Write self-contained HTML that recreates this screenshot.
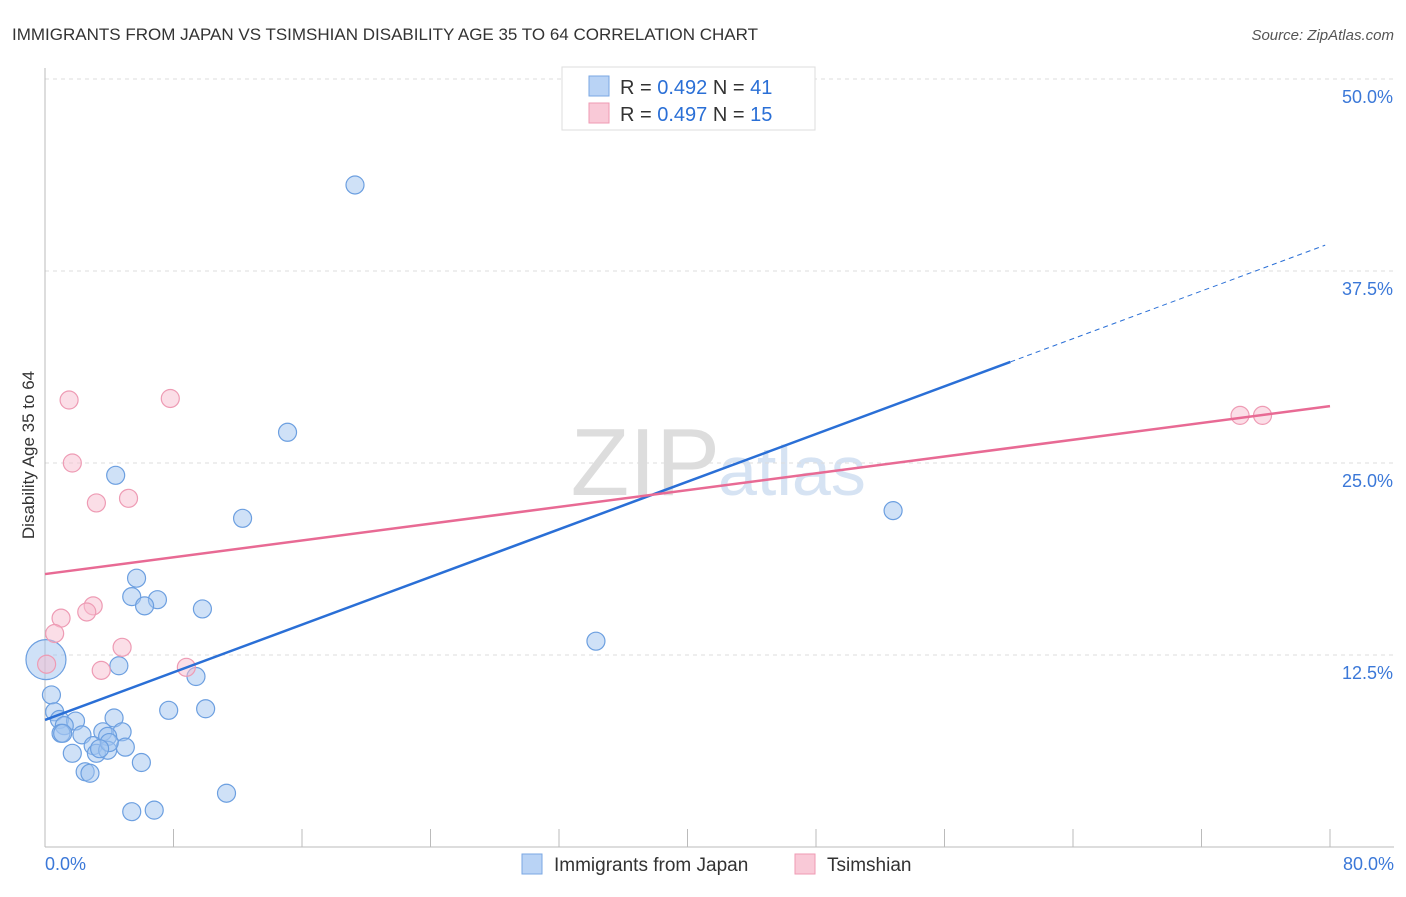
<!DOCTYPE html>
<html><head><meta charset="utf-8"><style>
body{margin:0;background:#fff;font-family:"Liberation Sans",sans-serif;}
svg text{font-family:"Liberation Sans",sans-serif;}
</style></head><body>
<svg id="c" width="1406" height="892">
<text x="12" y="40" font-size="17" fill="#333">IMMIGRANTS FROM JAPAN VS TSIMSHIAN DISABILITY AGE 35 TO 64 CORRELATION CHART</text>
<text x="1394" y="40" font-size="15" fill="#555" font-style="italic" text-anchor="end">Source: ZipAtlas.com</text>
<text x="720" y="495" font-size="96" fill="#ddd" text-anchor="end" font-family="Liberation Serif">ZIP</text>
<text x="718" y="495" font-size="70" fill="#d6e3f3">atlas</text>
<text x="34" y="455" font-size="17" fill="#333" text-anchor="middle" transform="rotate(-90 34 455)">Disability Age 35 to 64</text>
<g id="grid"></g><g id="pts"></g><g id="lines"></g>
<g>
<rect x="562" y="67" width="253" height="63" fill="#fff" stroke="#ddd"/>
<rect x="589" y="76" width="20" height="20" fill="#b9d3f5" stroke="#7aa7e3"/>
<rect x="589" y="103" width="20" height="20" fill="#f9c9d7" stroke="#ef9ab3"/>
<text x="620" y="94" font-size="20" fill="#333">R = <tspan fill="#2a6fd6">0.492</tspan>   N = <tspan fill="#2a6fd6">41</tspan></text>
<text x="620" y="121" font-size="20" fill="#333">R = <tspan fill="#2a6fd6">0.497</tspan>   N = <tspan fill="#2a6fd6">15</tspan></text>
</g>
<g>
<rect x="522" y="854" width="20" height="20" fill="#b9d3f5" stroke="#7aa7e3"/>
<text x="554" y="871" font-size="19" fill="#333">Immigrants from Japan</text>
<rect x="795" y="854" width="20" height="20" fill="#f9c9d7" stroke="#ef9ab3"/>
<text x="827" y="871" font-size="19" fill="#333">Tsimshian</text>
</g>
</svg>
<script>
const xTickLabels=["0.0%","80.0%"];
const yTicks=[12.5,25,37.5,50];
const yTickLabels=["12.5%","25.0%","37.5%","50.0%"];
const japanX=[19.3,15.1,4.4,12.3,52.8,5.7,5.4,7.0,6.2,9.8,34.3,4.6,9.4,0.4,0.6,7.7,10.0,0.9,1.9,4.3,1.2,1.0,2.3,3.6,4.8,3.9,1.7,3.0,3.2,3.9,5.0,4.0,2.5,2.8,6.0,11.3,5.4,6.8,0.06,1.1,3.4];
const japanY=[43.1,27.0,24.2,21.4,21.9,17.5,16.3,16.1,15.7,15.5,13.4,11.8,11.1,9.9,8.8,8.9,9.0,8.3,8.2,8.4,7.9,7.4,7.3,7.5,7.5,7.2,6.1,6.6,6.1,6.3,6.5,6.8,4.9,4.8,5.5,3.5,2.3,2.4,12.2,7.4,6.4];
const japanR=[9,9,9,9,9,9,9,9,9,9,9,9,9,9,9,9,9,9,9,9,9,9,9,9,9,9,9,9,9,9,9,9,9,9,9,9,9,9,20,9,9];
const tsimX=[1.5,7.8,1.7,3.2,5.2,1.0,0.6,3.0,2.6,4.8,3.5,8.8,0.1,74.4,75.8];
const tsimY=[29.1,29.2,25.0,22.4,22.7,14.9,13.9,15.7,15.3,13.0,11.5,11.7,11.9,28.1,28.1];
const japanLine=[8.27,39.3]; const japanSolidEnd=60.1;
const tsimLine=[17.77,28.7];
const ns="http://www.w3.org/2000/svg";
const X=v=>45+v/80*1285, Y=v=>847-v*15.36;
function mk(p,t,a){const e=document.createElementNS(ns,t);for(const k in a)e.setAttribute(k,a[k]);p.appendChild(e);return e;}
const g=document.getElementById('grid');
yTicks.forEach((t,i)=>{
 const l=mk(g,'line',{x1:45,x2:1394,y1:Y(t),y2:Y(t),stroke:'#ddd','stroke-dasharray':'4,4'});
 
 
 const tx=mk(g,'text',{x:1393,y:Y(t)+24,'font-size':18,fill:'#3b78d8','text-anchor':'end'});tx.textContent=yTickLabels[i];
 
 
});
mk(g,'line',{x1:45,x2:45,y1:68,y2:847,stroke:'#bbb'});
mk(g,'line',{x1:45,x2:1394,y1:847,y2:847,stroke:'#bbb'});
for(let i=1;i<=10;i++){const x=X(i*8);const l=mk(g,'line',{x1:x,x2:x,y1:829,y2:847,stroke:'#bbb'});
 
 }
[[0,'start',45],[80,'end',1394]].forEach((d,i)=>{const t=mk(g,'text',{x:d[2],y:870,'font-size':18,fill:'#3b78d8','text-anchor':d[1]});t.textContent=xTickLabels[i];
 
 });
const p=document.getElementById('pts');
japanX.forEach((x,i)=>{const c=mk(p,'circle',{cx:X(x),cy:Y(japanY[i]),r:japanR[i],fill:'rgba(160,195,240,0.5)',stroke:'#6c9fe0','stroke-width':1.2});
 
 });
tsimX.forEach((x,i)=>{const c=mk(p,'circle',{cx:X(x),cy:Y(tsimY[i]),r:9,fill:'rgba(248,190,208,0.5)',stroke:'#ee9bb4','stroke-width':1.2});
 
 });
const L=document.getElementById('lines');
const jy=x=>japanLine[0]+(japanLine[1]-japanLine[0])*x/80;
let a=mk(L,'line',{x1:X(0),y1:Y(jy(0)),x2:X(japanSolidEnd),y2:Y(jy(japanSolidEnd)),stroke:'#2a6fd6','stroke-width':2.5});


a=mk(L,'line',{x1:X(japanSolidEnd),y1:Y(jy(japanSolidEnd)),x2:X(79.7),y2:Y(jy(79.7)),stroke:'#2a6fd6','stroke-width':1,'stroke-dasharray':'5,4'});


a=mk(L,'line',{x1:X(0),y1:Y(tsimLine[0]),x2:X(80),y2:Y(tsimLine[1]),stroke:'#e86a94','stroke-width':2.5});


</script>
</body></html>
